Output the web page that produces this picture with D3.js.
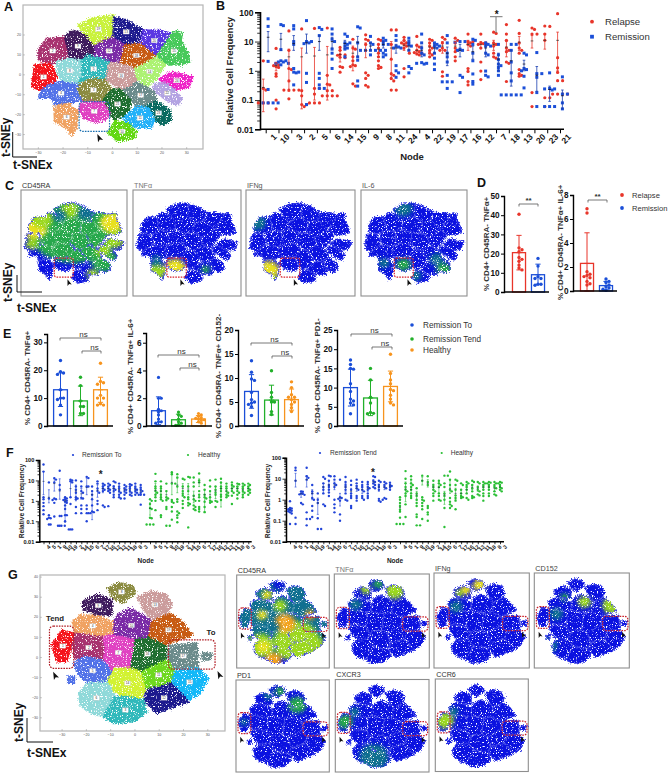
<!DOCTYPE html>
<html><head><meta charset="utf-8">
<script src="https://d3js.org/d3.v7.min.js"></script>
<style>html,body{margin:0;padding:0;background:#fff}svg{display:block}text{font-family:"Liberation Sans",Arial,sans-serif}</style>
</head><body><script>
// ---------- t-SNE node outlines (t-SNE units), panel A / C
const idsA=["19","13","20","15","12","9","2","1","8","5","16","18","14","24","22","17","3","4","21","7","6","23","11","10"];
const colorsA=["#c9f23c","#1c1a8e","#5a36e2","#47c95a","#7a2ba6","#3f1b5e","#a8336f","#f5141c","#8fd9d9","#30b9bb","#cb9c9c","#c75b14","#acf272","#ef22c8","#b3a3e2","#6b8b8b","#8b8b40","#5272e8","#1f6e30","#e042c2","#f0a262","#0a6a60","#22b1f8","#62d812"];
const outlinesA=[
[[-13.7,24.7],[-7,28.8],[0.7,29.7],[0.4,18.8],[-2.6,17.2],[-7.7,14.2],[-11,19.7]],
[[0.7,28.8],[5.8,27.2],[12.5,22.2],[10.5,15.8],[5.2,14.7],[0.4,18.5]],
[[12.5,22.2],[20.6,21.8],[24,20.5],[20.6,13.8],[17.9,8.8],[11.2,15.5]],
[[24,20.5],[26,21.8],[28.4,20.5],[28,17.2],[30.7,10.5],[31.4,6.3],[27.4,4.7],[21.7,4.7],[17.9,8.8],[20.6,13.8]],
[[-7.7,14.2],[-2.6,17.2],[0.4,18.5],[5.2,14.7],[3.8,8.8],[3.1,5.5],[-1.6,5.8],[-7.7,8.8]],
[[-19.8,18],[-16.4,22.2],[-13.7,21.3],[-11,19.7],[-7.7,14.2],[-7.7,8.8],[-12.4,7.2],[-17.8,8]],
[[-29.9,12.2],[-26.5,18],[-19.8,18.8],[-17.8,8],[-22.5,6.3],[-25.2,4.7],[-29.9,7.2]],
[[-31.3,4.7],[-25.2,5.5],[-22.2,-0.3],[-23.2,-4.5],[-27.9,-8.7],[-32.6,-6.2]],
[[-22.5,6.3],[-17.8,8],[-12.4,7.2],[-12,-0.3],[-13.7,-5.3],[-19.8,-3.7],[-22.2,-0.3]],
[[-12.4,7.2],[-9.7,9.7],[-1,6.3],[-2.3,-0.3],[-3,-2.8],[-8.4,-2],[-13.7,-5.3],[-12,-0.3]],
[[-1,5.8],[3.1,5.5],[7.8,4.7],[10.1,-2],[7.8,-6.2],[3.1,-7.5],[-2.3,-2.8],[-2.3,-0.3]],
[[5.2,14.7],[11.2,15.5],[17.9,8.8],[12.5,4.7],[9.2,3],[7.8,4.7],[3.4,5.8]],
[[12.5,4.7],[17.9,8.8],[21.7,4.7],[17.9,-2],[13.9,-6.5],[10.1,-2],[9.2,3]],
[[19.1,-2.5],[23.9,1.3],[30,-0.3],[32.8,-1.2],[30.7,-7],[26,-7.5],[21.3,-5.3]],
[[17.2,-4.5],[21.9,-4.5],[25.3,-7.8],[28.4,-12],[26.7,-15.3],[23.3,-14.5],[19.3,-10.3],[16.3,-8.7]],
[[7.8,-6.2],[10.1,-3.7],[13.9,-6.5],[17.2,-8.7],[17.9,-12.8],[14.6,-16.2],[9.8,-16.2],[4.4,-7.8]],
[[-13.7,-5.3],[-8.4,-2],[-3,-2.8],[0.1,-7.5],[-3.6,-12.8],[-8.4,-13.7],[-12.4,-12.8],[-14.7,-7.8]],
[[-22.2,-3.7],[-19.8,-3.7],[-13.7,-5.3],[-14.7,-7.8],[-12.4,-12.8],[-16.4,-14.8],[-23.2,-15.3],[-24.5,-12],[-29.9,-12],[-28.5,-7.8],[-25.2,-5.3]],
[[0.1,-7.5],[3.1,-7.5],[7.8,-13.7],[6.5,-20.3],[1.1,-22.8],[-0.9,-20.3],[-3.6,-12.8]],
[[-12.4,-13.7],[-3.6,-13.7],[-0.9,-20.3],[-2.3,-22.8],[-6.3,-24.2],[-11.7,-22],[-13.3,-17.8]],
[[-23.5,-16.2],[-17.8,-14.5],[-13.7,-18.7],[-14.4,-27],[-16.4,-31.2],[-18.5,-27],[-23.2,-23.7]],
[[13.2,-16.2],[17.9,-13.7],[23.3,-17.8],[24,-22.8],[20.6,-25.3],[15.2,-22]],
[[4.4,-22],[9.8,-16.2],[14.6,-16.5],[17.2,-22.8],[15.9,-27],[11.2,-27],[6.5,-25.3]],
[[1.1,-23.2],[6.5,-24.5],[9.8,-28.7],[9.2,-32],[2.4,-33.7],[-1.6,-29.5]]];
// ---------- t-SNE node outlines, panel G
const idsG=["8","13","9","10","19","4","1","2","7","16","17","","5","","14","11","15","12","6","3"];
const colorsG=["#8b8b40","#cb9c9c","#3f1b5e","#7a2ba6","#c75b14","#f0a262","#f5141c","#a8336f","#e042c2","#1f6e30","#6b8b8b","#6b8b8b","#5272e8","#5272e8","#d2f232","#6ed81e","#12b8f8","#1c1a8e","#8fd9d9","#30b9bb"];
const outlinesG=[
[[-11.4,34],[-6.6,37],[-0.4,35.3],[0.3,31.5],[-5.2,26.7],[-9.3,30]],
[[1,30],[7.1,32.8],[13.3,30.8],[15.4,25.9],[13.3,20.9],[7.1,17.9],[3.7,23.4]],
[[-21.7,27.5],[-15.5,31.2],[-9.3,28.4],[-9.3,20.9],[-15.5,20.9],[-21,23.4]],
[[-8.7,17.6],[-6.6,21.7],[-1.8,24.2],[3.7,20.9],[7.1,17.6],[5.8,10.1],[0.3,8.5],[-9.3,10.9]],
[[7.1,17.6],[14.7,21.7],[19.5,17.6],[24,10.9],[14.7,6.8],[13.3,6],[5.8,10.1]],
[[-25.8,17.6],[-22.4,20.9],[-15.5,20.6],[-8.9,17.6],[-9.3,10.9],[-12.8,10.1],[-24.5,11.8]],
[[-34.1,6],[-30,13.4],[-25.1,11.8],[-25.8,6],[-27.9,-2.3],[-32,-2.3]],
[[-24.5,11.8],[-12.8,10.1],[-12.1,4.3],[-12.8,-2.3],[-24.5,-0.7],[-25.8,6]],
[[-12.8,10.1],[-9.3,10.9],[0.3,8.5],[-1.5,-5.6],[-8,-5.6],[-11.4,-7.3],[-12.8,-2.3],[-12.1,4.3]],
[[0.3,8.5],[5.8,9.6],[13.3,5.1],[12.6,-1.5],[3,-7],[-1.5,-5.6]],
[[14.7,6],[25.7,6.8],[26.4,-5],[16.1,-5.6],[13.3,-1.5]],
[[27.5,2],[31.9,2],[31.2,-1.5],[27.5,-1.5]],
[[-25.1,-3.2],[-21,0.2],[-13.5,-1.5],[-9.3,-7.3],[-12.8,-13.1],[-16.9,-14.8],[-23.1,-8.9]],
[[-27.5,-10],[-24.7,-9.3],[-24.7,-13],[-27.5,-13]],
[[-11.4,-12.3],[-8,-5.6],[-1.5,-5.6],[2.3,-7.3],[5.1,-16.4],[2.3,-20.6],[-3.2,-20.6],[-9.3,-16.4]],
[[3,-7.3],[13.3,-1.5],[16.8,-7.3],[15.4,-12.3],[5.1,-15.9]],
[[16.8,-6.5],[26.4,-5.6],[30.5,-10.6],[27.1,-18.1],[22.3,-21.4],[16.1,-13.9],[15.4,-12.3]],
[[5.1,-16.4],[15.4,-13.1],[22.3,-22.2],[16.1,-24.7],[9.2,-28],[3.7,-21.4]],
[[-23.1,-18.1],[-19.6,-13.1],[-11.4,-12.3],[-9.3,-16.4],[-8,-19.7],[-12.8,-29.7],[-18.3,-28],[-22.4,-23.9]],
[[-8,-19.7],[-3.2,-19.7],[3.7,-21.4],[5.1,-27.2],[-0.4,-32.2],[-8.7,-33],[-12.8,-29.7]]];
// ---------- marker expression hot spots: [tsneX, tsneY, radius, level]
const levelColors=["#0b12e0","#0f6f90","#27a84c","#9bd81e","#e8e020","#f2a31e"];
const hotCD45RAc=[[0,15,33,2],[-26,9,8,4],[-21,17,7,3],[25,14,8,4],[-3,24,6,3],[-10,20,5,1],[8,22,6,1],[27,0,6,3],[20,-16,9,2],[12,-27,4,3],[19,-8,5,3],[-28,-3,4,3]];
const hotTNFc=[[-8,-21.5,7,4],[-20,-25,6,3],[-20,-16,4,1],[12,-23,3,2]];
const hotIFNc=[[-20.5,-23,7,4],[-17,-31,3,3],[-28,14,6,1]];
const hotIL6c=[[-7,-19,5,2],[-20,-18,4,1],[19.6,-23,5,2],[1,-28,4,1],[-7,25,6,1],[15,-15,5,1]];
const hotCD45RAg=[[0,8,36,1],[9,-14.5,17,3],[-18,-18,10,3],[0,1,8,5],[-8.5,-30,6,5],[-16,-19,5,4],[19,8,4,5],[-17,8,4,4],[-3.5,16,5,3],[21.5,-17,8,3],[-13.5,25,4,4],[-4,34,5,0],[-11,-3,7,1]];
const hotTNFg=[[8.2,28,7,3],[-4,33.5,4,2],[-13,29,4,3],[-20.5,16.5,5,1]];
const hotIFNg=[[-2.7,32,5,4],[-12.7,28,4,4],[-18,25,3,3],[-20,14,5,1]];
const hotCD152g=[[0.7,18,5,3],[20.7,15,7,3],[-14,22,3,2],[-20,8,5,1],[-25,-18,6,1]];
const hotPD1g=[[-3,32,4,2],[9.5,20.5,7,2],[-12,29,4,1],[-30,6,3,1]];
const hotCXCR3g=[[-29,6,6,2],[-7.5,-24,11,1],[-22,14,4,1]];
const hotCCR6g=[[-29,6.7,7,3],[-22.5,14,4,1]];
// ---------- panel B
const nodesB=["1","10","3","2","5","6","14","15","9","8","11","24","4","22","19","17","16","12","7","18","13","20","23","21"];
const relapseB=[[2.2,0.25,0.22,0.08,0.08,0.08],[5.8,1.8,1.6,1.5,1.4,1.3,0.8,0.65,0.1,0.05],[23,5,1.2,1.1,0.45,0.22,0.22,0.22,0.22,0.11],[27,0.21,0.14,0.07,0.06,0.07],[28,0.25,0.25,0.16,0.08,0.08,0.08],[29,0.7,0.35,0.33,0.21,0.21,0.14,0.14,0.14,0.14],[6.3,5,3.6,3.5,3.4,2.9,2.8,1.4,1.3,0.9],[12,6,5.5,3,2.2,1.6,1.5,1.4,0.36,0.3],[17,12,11,8,5,0.85,0.7,0.55,0.32,0.28],[12,11,8,6,4,3,2.2,1.5,1.3,1.2],[25,25,8,2.5,0.8,0.7,0.55,0.45,0.22,0.22],[14,11,9,9,8,7,6,1.2,0.62],[15,7.5,6.5,5,4.5,4.2,4,4,3.8,3.5],[12,11,9,7,6,5,4,3.5,3],[14,12,9,6,5,5,0.92,0.65],[13,11,9,6,5,4.5,3,2.2],[18,10,10,9,8,7,1.2,0.95,0.43,0.33],[18,9,9,8.5,8,6,2,0.98,0.5],[21,19,9,8,7,4,3,2.7],[38,18,11,6,5,4.5,2,1.8,0.43],[53,19,9,6,5,4,1.1,0.8,0.7,0.65],[29,26,18,18,0.18,0.06],[34,33,18,11,0.12,0.12,0.06],[90,2.8,1.25,0.88,0.46,0.46,0.16,0.16,0.16,0.16]];
const remissionB=[[60,33,2.1,0.23,0.08,0.08,0.08,0.08],[38,35,5.3,2.2,2.2,2,2,1.8,1.8,1.6],[35,27,10,8,1.2,0.9,0.9,0.85,0.33],[52,10,10,9,8.5,0.82,0.4,0.07],[30,26,16,0.82,0.55,0.33,0.25,0.25],[27,18,12,10,5.5,4,2.5,1.2],[18,15,9,9,8,7,6,5.5,3],[32,29,9,3,2.3,0.45,0.3],[15,9,8,5,5,5,5,5,5,3.5],[13,11,10,8,8,4,3.5,3],[16,11,7,6.5,6,6,1.5,1,0.85,0.6],[13,10,8,7,5,1.4,1.2,0.85],[18,9,6,4,3.5,1.9,1.8,1.8,1.7],[9,8,7,7,6,4,2.7,1.7,1.1],[16,9,4,3,2,0.7,0.42,0.42,0.42,0.25],[10,10,9.5,5.5,5,5,0.7,0.6,0.18],[12,11,8,4,2.2,0.78,0.43,0.35],[9,8,7,7,4,3.5,0.98,0.7,0.62],[8,3.5,2.4,1.7,1.5,1.3,1,0.7],[8,8,5,2,0.85,0.45,0.15,0.15,0.15,0.15,0.15],[4,3.5,1.2,1.1,1,0.65,0.26],[4.2,0.8,0.8,0.6,0.18,0.06],[0.85,0.25,0.24,0.24,0.22,0.06,0.06,0.06],[0.62,0.16,0.16,0.08,0.05]];
const relapseMeanB=[0.27,1.5,3,3,3.2,3.5,3.6,4,5,5.5,6,7.5,5,6.5,7,7,8,8,8,6.5,9.5,10.5,11,11];
const relapseLowB=[0.04,1,0.2,0.05,0.1,0.1,2,1,2.8,3,0.5,5,3.5,4.5,4,4.5,5,6,5,3,5,6,5.5,1];
const relapseHighB=[0.52,1.9,5.5,6,6.3,6.8,5,7,9,8,10,10,7,9,10,10,11,10,11,10,15,16,18,21];
const remissionMeanB=[14,12,8.5,9,10,10,8.5,9.5,7,8,6,7,5,6,4,5,4.5,6,2.5,2.2,1.7,0.7,0.23,0.14];
const remissionLowB=[4.5,5,5,4,5,6,6,3,5,6,4,5,3,4,1.5,3,2.5,3,1,0.3,1,0.2,0.09,0.05];
const remissionHighB=[22,19,16,18,16,14,11,15,9,10,8,9,7,8,6.5,8,7,8,4,5,2.3,1.4,0.3,0.22];
// ---------- panel D
const dRelapse1=[40.5,23,22,21,18,17,16,14,12.5,11.5], dRemission1=[17.5,13.5,8,7,7,4,4,3.5];
const dRelapse2=[6.85,6.5,1.6,1.4,1.3,1.2,1.1,0.8,0.6,0.5], dRemission2=[1,0.8,0.7,0.5,0.35,0.25,0.15,0.05];
const dStats1=[[20.5,11.5,29.5],[9,4,14.5]], dStats2=[[2.3,0,4.85],[0.45,0.1,0.8]];
// ---------- panel E
const groupsE=["Remission To","Remission Tend","Healthy"];
const e1To=[23.5,19.5,19,18.5,13,10,10,9.5,7.5,4], e1Tend=[17.5,14.5,9,7,7,4.5,4.5], e1Healthy=[22.5,16,15.5,15,11,10,10,8,7.5,7.5];
const e2To=[3.5,2,2,1.2,1.1,1,0.8,0.5,0.3,0.3,0.2], e2Tend=[1,0.8,0.7,0.5,0.3,0.2,0.1,0.05], e2Healthy=[0.9,0.8,0.7,0.6,0.55,0.5,0.45,0.4,0.3,0.2];
const e3To=[13.6,11.2,9.8,9.5,7,5.5,5,4.8,4.5,4,2.2], e3Tend=[11.5,7,6,5,5,3,2.4], e3Healthy=[9.2,8,6.5,6,6,5.5,5,4.5,3.8,3];
const e4To=[17.2,16,15,14.8,11,9,7,6.5,6,5.5,3.2], e4Tend=[15,12,7.5,6,3.5,3.3,3.2], e4Healthy=[18.7,13.7,12,11,9.5,9.2,8,7,6,5.5];
const eStats1=[[13,7,19],[9,3.7,14.3],[13,8.5,17.5]], eStats2=[[1.1,0.1,2.1],[0.45,0.05,0.85],[0.5,0.25,0.75]], eStats3=[[7.2,3.7,10.7],[5.4,2.3,8.5],[5.5,3.3,7.7]], eStats4=[[10,5.2,14.8],[7.3,2.7,11.9],[10.3,6.3,14.3]];
// ---------- panel F
const nodesF=["4","5","1","9","10","19","2","14","15","6","7","17","16","12","13","11","18","8","3"];
const toF=[[60,27,1.5,1.2,0.8,0.55,0.35,0.22],[8,1.3,0.2,0.15,0.14,0.13,0.07,0.07],[13,11,8,1.3,1.2,1.1,0.8,0.17],[30,6,3.5,0.18,0.18,0.06,0.06,0.06,0.06],[1.5,1.3,1.2,1.1,1,0.9,0.8,0.6,0.4,0.2,0.2,0.1],[11,10,9,8,1.5,0.7,0.04,0.04,0.04],[10,5,3.5,2.5,1.5,1.3,1.2,0.5,0.25],[9,5,3,2.5,1.4,1.3,0.6,0.4,0.25],[15,13,5,5,0.6,0.4,0.25,0.25,0.1],[5,3,2,1.2,0.6,0.3,0.28,0.25],[9,7,4,3,2.5,1,0.7,0.35],[7,6,5,4,3.5,3,0.6,0.5],[7,6,5,4,3.5,3,2.5,0.55],[9,8,5,4,3.5,3,2,1.5],[7,5,4,3,2.5,2,1.5,1.3],[6,5,4,3.5,3,2.5,2,1.3],[6.5,6,5,4,3,2.5,2,1.8],[7,5,4,3.5,3,2.5,2,2],[6,4.5,3.5,3,2.5,2,2,0.65]];
const toMeanF=[9,1.5,7,3,1,4,3,2.2,4.5,2,3.3,4,4,4,3.5,3.5,3.5,3.5,3];
const toLowF=[2,0.8,3,1.2,0.09,1.5,1,1.2,2,0.12,1.5,2.5,3,2.5,2.5,2.5,2.5,2.5,2];
const toHighF=[27,3.5,12,12,1.5,10,6,4,13,3,6,6,5,5.5,4.5,4.5,4.5,4.5,4];
const healthyLF=[[1.2,1,0.7,0.45,0.4,0.15,0.14,0.07,0.07,0.07],[21,9,5,4,3,2.5,2,1.5,1,0.35],[9,5,4,3,2,1.5,1.2,1,0.2,0.16],[7,3,1.5,1.3,1.1,0.5,0.4,0.06,0.06],[25,20,7,7,1.1,0.9,0.8,0.5,0.3,0.12],[20,14,5,1.2,0.9,0.3,0.25,0.2,0.15,0.09],[12,11,5,3,2.2,1.8,1.5,1,0.7,0.45],[15,14,5,3,1.5,1.2,0.8,0.7,0.6,0.05],[14,8,5,1.8,1.2,1,0.6,0.5,0.4,0.35],[22,10,8,3,2,1.5,1,0.5,0.4,0.3],[6,3.5,2,1.5,1.3,0.9,0.5,0.28],[10,5,3,1.5,1,0.9,0.8],[11,5,3.5,2.5,2,1,0.9,0.5],[12,8,5,4,3,2,1.6,1.1],[7,5,4,3,2.5,2,1.8,1.5],[8,6,5,4,3,2.5,1.8,0.7],[7,6.5,5,4,3,2.5,2,1.3],[7,6,5,4,3,2.5,2,1.5],[7,6,5,4,3.5,3,2.5,2]];
const healthyLMeanF=[0.42,3.2,3,2,8,6,4,3.8,1.7,8,2,2,3,4,3,4,4,3.5,4];
const healthyLLowF=[0.2,2,1.5,1,2,2.5,2.5,2,0.8,5,0.3,1.2,1.3,0.5,2,3,3,2.5,3];
const healthyLHighF=[0.8,7,5,3,22,13,7,7,3,12,3.5,3,5,7,4,5,5,4.5,5];
const tendF=[[0.85,0.4,0.38,0.35,0.33,0.3,0.28,0.25,0.22,0.07],[33,25,8,0.14,0.07],[2.5,2.4,2,1.9,1.8,1.7,0.7,0.6],[33,13,11,9,0.25,0.12,0.12,0.06],[5,2.5,2,1.2,1,0.5,0.3,0.15],[2,1,0.7,0.13,0.04,0.04],[12,10,6,4,3,2,0.5,0.6],[14,13,8,5,4,3,2.2,1.5],[13,9,6,5,4,1,0.6,0.4,0.25],[9,1.3,1.2,1.1,0.9,0.2,0.1],[12,7,5,4,3,2,1,0.9],[8,5,3,2,1.5,1.2,0.5,0.4],[9,6,4.5,3.5,3,1.5,1.2,0.9],[7,5,4,3,2.5,1.5,1.2,1],[7,5.5,4,3.5,3,2,1.5,1.2],[13,12,8,7,6,5,4,3.5],[8,7,5,4,3,1.1,0.9,0.8],[7,6,5,4,3.5,1.2,1.1,1],[6.5,5,4.5,4,3]];
const tendMeanF=[0.33,8,1.9,9,2,0.7,4,5,5,1.2,4,2.5,3.5,3,3.5,7,4,4,4.5];
const tendLowF=[0.25,4,1.3,4,1,0.2,2,3,3,0.5,2.5,1.5,2.5,2,2.5,5.5,2.5,3,3.5];
const tendHighF=[0.42,18,2.5,14,3,1.2,6,8,7,2,6,3.5,4.5,4,4.5,9,5.5,5,5.5];
const healthyRF=[[1.3,1,0.7,0.5,0.33,0.27,0.14,0.07,0.07,0.07],[23,10,6,4,3,2.5,2,1.5,0.6,0.15],[13,9,6,5,4,3,2,1.5,1.2],[3.5,2,1.5,1,0.7,0.5,0.2,0.15,0.06,0.06],[14,8,1.3,1,0.9,0.7,0.5,0.35,0.12],[13,7,5,0.5,0.4,0.25,0.2,0.1],[8,5,4,3,2.5,2,1.5,0.9],[8,6,5,4,2,1.5,1,0.9],[14,14,6,4,2,1.5,1,0.4,0.05],[22,9,5,3,2.5,1.2,0.8,0.6,0.5,0.4],[9,8,5,3,1.6,1.2,0.9,0.35],[6,5,3,2,1.5,1.3,1.2],[7,6,5,4,3,2,1.2,1],[8,7,5,3.5,2.5,1.5,1.3,1.2],[7,6,4,3,2.5,1.8,1.6],[7,6,5,4,3,2,1.5,0.9],[7,6.5,6,5,4,3,2,1.5],[7,6,5,4,3.5,2.5,1.8,1.6],[7,6.5,6,5,4,3.5,3,2.5]];
const healthyRMeanF=[0.42,3.2,3,1.7,8,6,4,3.8,1.7,3.5,2,2,3,4,3.5,4,4,3.5,4];
const healthyRLowF=[0.3,0.8,2,0.9,5,4,3,2,0.6,2,1,1.5,2,3,2.5,3,3,2.5,3];
const healthyRHighF=[0.55,7,7,2.5,12,9,5.5,7,2.5,8,3.5,3,4,5,4.5,5,5,4.5,5];
// ---------- shared text
const fontSans='"Liberation Sans",Arial,sans-serif', fontSerif='"Liberation Serif","Times New Roman",serif';
const RED="#e8352a",BLUE="#1b4fd8",GREEN="#22b02a",ORANGE="#f7941e";

const svg=d3.select("body").append("svg").attr("width",669).attr("height",773);
const defs=svg.append("defs");
function speckle(id,scale,freq,seed,k,t){
  const f=defs.append("filter").attr("id",id).attr("x","-8%").attr("y","-8%").attr("width","116%").attr("height","116%").attr("color-interpolation-filters","sRGB");
  f.append("feTurbulence").attr("type","fractalNoise").attr("baseFrequency",freq).attr("numOctaves",2).attr("seed",seed).attr("result","n");
  f.append("feDisplacementMap").attr("in","SourceGraphic").attr("in2","n").attr("scale",scale).attr("xChannelSelector","R").attr("yChannelSelector","G").attr("result","d");
  f.append("feColorMatrix").attr("in","n").attr("type","matrix").attr("values",`0 0 0 0 0 0 0 0 0 0 0 0 0 0 0 ${-k} 0 0 0 ${t}`).attr("result","m");
  f.append("feComposite").attr("in","d").attr("in2","m").attr("operator","in").attr("result","c");
  f.append("feGaussianBlur").attr("in","c").attr("stdDeviation",0.3);
}
speckle("spkA",6,0.8,4,9,6.4);
speckle("spkM",6,0.8,7,9,6.5);
defs.append("filter").attr("id","blurHot").attr("x","-30%").attr("y","-30%").attr("width","160%").attr("height","160%").attr("color-interpolation-filters","sRGB").append("feGaussianBlur").attr("stdDeviation",2.2);

const text=(x,y,s,o={})=>{const t=svg.append("text").attr("x",x).attr("y",y).text(s).attr("font-size",o.size||8).attr("fill",o.fill||"#222").attr("font-weight",o.bold?"bold":"normal").attr("text-anchor",o.anchor||"start").attr("font-family",o.family||fontSans);if(o.rot)t.attr("transform",`rotate(${o.rot} ${x} ${y})`);return t;};
[["A",4,11],["B",216,10],["C",5,190],["D",477,187],["E",3,338],["F",6,457],["G",8,579]].forEach(d=>text(d[1],d[2],d[0],{size:12.5,bold:true,fill:"#111"}));

const polyPath=(sx,sy)=>d3.line().x(d=>sx(d[0])).y(d=>sy(d[1])).curve(d3.curveLinearClosed);
function scatterBox(x0,y0,x1,y1,xd,yd,xt,yt){
  const sx=d3.scaleLinear().domain(xd).range([x0,x1]),sy=d3.scaleLinear().domain(yd).range([y0,y1]);
  const g=svg.append("g");
  g.append("rect").attr("x",x0).attr("y",y0).attr("width",x1-x0).attr("height",y1-y0).attr("fill","none").attr("stroke","#b5b5b5").attr("stroke-width",1.2);
  const ax=g.append("g").attr("transform",`translate(0,${y1})`).call(d3.axisBottom(sx).tickValues(xt).tickSize(-2).tickPadding(2));
  const ay=g.append("g").attr("transform",`translate(${x0},0)`).call(d3.axisLeft(sy).tickValues(yt).tickSize(-2).tickPadding(2));
  [ax,ay].forEach(a=>{a.select(".domain").remove();a.selectAll("line").attr("stroke","#999").attr("stroke-width",.5);a.selectAll("text").attr("font-size",3.6).attr("fill","#555");});
  return {sx,sy};
}
function colourMap(outlines,colors,ids,sx,sy,labelSize){
  const p=polyPath(sx,sy);
  svg.append("g").attr("filter","url(#spkA)").selectAll("path").data(outlines).join("path").attr("d",d=>p(d)).attr("fill",(d,i)=>colors[i]).attr("stroke",(d,i)=>colors[i]).attr("stroke-width",1.6).attr("stroke-linejoin","round");
  const lab=svg.append("g");
  outlines.forEach((o,i)=>{ if(!ids[i])return; const c=d3.polygonCentroid(o.map(q=>[sx(q[0]),sy(q[1])]));
    lab.append("rect").attr("x",c[0]-3).attr("y",c[1]-2.2).attr("width",6).attr("height",4.4).attr("fill","#fff").attr("stroke","#bbb").attr("stroke-width",.3);
    lab.append("text").attr("x",c[0]).attr("y",c[1]+1.2).attr("text-anchor","middle").attr("font-size",labelSize).attr("fill","#333").text(ids[i]);});
}
let clipN=0;
function markerMap(x0,y0,x1,y1,label,lblColor,outlines,xd,yd,hot){
  const sx=d3.scaleLinear().domain(xd).range([x0,x1]),sy=d3.scaleLinear().domain(yd).range([y0,y1]);
  svg.append("rect").attr("x",x0).attr("y",y0).attr("width",x1-x0).attr("height",y1-y0).attr("fill","#fff").attr("stroke","#8e8e8e").attr("stroke-width",1.1);
  const p=polyPath(sx,sy),id="clip"+(clipN++);
  defs.append("clipPath").attr("id",id).selectAll("path").data(outlines).join("path").attr("d",d=>p(d));
  const g=svg.append("g").attr("filter","url(#spkM)");
  g.selectAll("path.b").data(outlines).join("path").attr("class","b").attr("d",d=>p(d)).attr("fill",levelColors[0]).attr("stroke",levelColors[0]).attr("stroke-width",1.4).attr("stroke-linejoin","round");
  const h=g.append("g").attr("clip-path",`url(#${id})`).append("g").attr("filter","url(#blurHot)");
  h.selectAll("ellipse").data(hot).join("ellipse").attr("cx",d=>sx(d[0])).attr("cy",d=>sy(d[1])).attr("rx",d=>Math.abs(sx(d[2])-sx(0))).attr("ry",d=>Math.abs(sy(d[2])-sy(0))).attr("fill",d=>levelColors[d[3]]);
  g.append("g").selectAll("path").data(outlines).join("path").attr("d",d=>p(d)).attr("fill","none").attr("stroke","#fff").attr("stroke-width",.3).attr("stroke-opacity",.6);
  text(x0+1,y0-2.5,label,{family:fontSerif,size:7.2,fill:lblColor});
  return {sx,sy};
}
function dottedBox(sx,sy,a,b,c,d,color,r){
  svg.append("rect").attr("x",sx(a)).attr("y",sy(b)).attr("width",sx(c)-sx(a)).attr("height",sy(d)-sy(b)).attr("rx",r).attr("fill","none").attr("stroke",color).attr("stroke-width",1.2).attr("stroke-dasharray","1.6 1.1");
}
function arrowHead(x,y,rot,size){
  svg.append("path").attr("d",d3.line()([[0,-size],[size*.62,size*.75],[0,size*.35],[-size*.62,size*.75]])+"Z").attr("transform",`translate(${x},${y}) rotate(${rot})`).attr("fill","#111");
}
function lAxis(x,yTop,yBot,xEnd){svg.append("path").attr("d",`M${x},${yTop}V${yBot}H${xEnd}`).attr("fill","none").attr("stroke","#111").attr("stroke-width",1);}

// ---------- A
{
  const {sx,sy}=scatterBox(23,5,203,149,[-36,36.8],[34.8,-37.5],[-30,-20,-10,0,10,20,30],[20,10,0,-10,-20,-30]);
  colourMap(outlinesA,colorsA,idsA,sx,sy,3.2);
  dottedBox(sx,sy,-13.3,-13.7,-1,-28.7,"#1a6fb0",4);
  arrowHead(sx(-5.2),sy(-32),-25,4.5);
  lAxis(12.7,132,157,37);
  text(10,157,"t-SNEy",{size:12,bold:true,rot:-90,fill:"#111"});
  text(13,169,"t-SNEx",{size:12,bold:true,fill:"#111"});
}
// ---------- log panels helpers
function logAxis(x,yTop,yBot,xEnd,size,major,minor,lw){
  const sy=d3.scaleLog().domain([0.01,100]).range([yBot,yTop]);
  const g=svg.append("g").attr("transform",`translate(${x},0)`);
  const allT=[];[0.01,0.1,1,10].forEach(b=>[2,3,4,5,6,7,8,9].forEach(m=>allT.push(b*m)));
  g.append("g").call(d3.axisLeft(sy).tickValues(allT).tickSize(minor).tickFormat("")).call(a=>a.select(".domain").remove());
  g.append("g").call(d3.axisLeft(sy).tickValues([0.01,0.1,1,10,100]).tickSize(major).tickPadding(1.5).tickFormat(d=>String(d)));
  g.selectAll("line").attr("stroke","#000").attr("stroke-width",.8);
  g.select("g:last-child .domain").attr("stroke","#000").attr("stroke-width",lw);
  g.selectAll("text").attr("font-size",size).attr("font-weight","bold").attr("fill","#111");
  svg.append("line").attr("x1",x).attr("x2",xEnd).attr("y1",yBot).attr("y2",yBot).attr("stroke","#000").attr("stroke-width",lw);
  return sy;
}
function dodge(vals,sy,cx,step,minD){
  const placed=[];
  [...vals].sort((a,b)=>b-a).forEach(v=>{
    const y=sy(v);let k=0,x=cx;
    for(;;){
      const off=k===0?0:(k%2?1:-1)*Math.ceil(k/2)*step; x=cx+off;
      if(!placed.some(p=>Math.hypot(p.x-x,p.y-y)<minD))break; k++; if(k>12)break;
    }
    placed.push({x,y,v});
  });
  return placed;
}
function marks(pts,shape,color,r){
  const g=svg.append("g").attr("fill",color);
  if(shape==="circle")g.selectAll("circle").data(pts).join("circle").attr("cx",d=>d.x).attr("cy",d=>d.y).attr("r",r);
  else g.selectAll("rect").data(pts).join("rect").attr("x",d=>d.x-r).attr("y",d=>d.y-r).attr("width",2*r).attr("height",2*r);
}
function errBar(cx,sy,m,lo,hi,color,meanColor,cap,lw){
  const g=svg.append("g").attr("stroke",color).attr("stroke-width",lw).attr("fill","none");
  g.append("line").attr("x1",cx).attr("x2",cx).attr("y1",sy(lo)).attr("y2",sy(hi));
  [lo,hi].forEach(v=>g.append("line").attr("x1",cx-cap).attr("x2",cx+cap).attr("y1",sy(v)).attr("y2",sy(v)));
  g.append("line").attr("x1",cx-cap).attr("x2",cx+cap).attr("y1",sy(m)).attr("y2",sy(m)).attr("stroke",meanColor);
}
// ---------- B
{
  const sy=logAxis(260,12.3,129.3,564,8.5,5,2.8,1.6);
  const sx=d3.scalePoint().domain(nodesB).range([265.7,560]);
  const ax=svg.append("g").attr("transform","translate(0,129.3)").call(d3.axisBottom(sx).tickSize(4).tickPadding(3));
  ax.select(".domain").remove();ax.selectAll("line").attr("stroke","#000").attr("stroke-width",1);
  ax.selectAll("text").attr("font-size",8.5).attr("font-weight","bold").attr("fill","#111").attr("text-anchor","end").attr("transform","translate(2,-1) rotate(-45)");
  nodesB.forEach((n,i)=>{
    const cx=sx(n);
    marks(dodge(relapseB[i],sy,cx-2.4,2.5,2.6),"circle",RED,1.6);
    marks(dodge(remissionB[i],sy,cx+2.4,2.5,2.6),"rect",BLUE,1.5);
    errBar(cx-2.4,sy,relapseMeanB[i],relapseLowB[i],relapseHighB[i],RED,"#333",1.3,.8);
    errBar(cx+2.4,sy,remissionMeanB[i],remissionLowB[i],remissionHighB[i],"#1c3fb0","#112",1.3,.8);
  });
  text(233,71,"Relative Cell Frequency",{size:9.6,bold:true,anchor:"middle",rot:-90,fill:"#222"});
  text(412,160,"Node",{size:9.5,bold:true,anchor:"middle"});
  const c7=sx("7");
  svg.append("path").attr("d",`M${c7-6},16.7H${c7+6.5}M${c7},16.7V33`).attr("stroke","#777").attr("stroke-width",1).attr("fill","none");
  text(c7+.7,18,"*",{size:10,bold:true,anchor:"middle",fill:"#111"});
  marks([{x:592,y:21.7}],"circle",RED,1.9);
  marks([{x:592,y:36.7}],"rect",BLUE,1.9);
  text(605,25,"Relapse",{size:9.6,fill:"#333"});text(605,40,"Remission",{size:9.6,fill:"#333"});
}
// ---------- C
{
  const xd=[-35,35],yd=[40,-44];
  [[21,190,127,296,"CD45RA",hotCD45RAc,"#333"],[133,190,241,296,"TNFα",hotTNFc,"#777"],[246,190,355,296,"IFNg",hotIFNc,"#555"],[361,190,467,296,"IL-6",hotIL6c,"#555"]].forEach(p=>{
    const {sx,sy}=markerMap(p[0],p[1],p[2],p[3],p[4],p[6],outlinesA,xd,yd,p[5]);
    dottedBox(sx,sy,-13,-14,-0.5,-29,"#d8202a",2);
    arrowHead(sx(-3.5),sy(-33.5),-20,3.6);
  });
  lAxis(17,275,292,42);
  text(12,302,"t-SNEy",{size:12,bold:true,rot:-90,fill:"#111"});
  text(17,312,"t-SNEx",{size:12,bold:true,fill:"#111"});
}
// ---------- bars
function barPanel(o){
  const sy=d3.scaleLinear().domain(o.domain).range([o.y0,o.yTop]);
  const sx=d3.scaleBand().domain(o.groups).range(o.band).paddingInner(.25).paddingOuter(.125);
  o.groups.forEach((g,i)=>{
    const x=sx(g),w=sx.bandwidth(),s=o.stats[i],c=o.colors[i],cx=x+w/2;
    svg.append("rect").attr("x",x+.6).attr("y",sy(s[0])).attr("width",w-1.2).attr("height",sy(0)-sy(s[0])).attr("fill","#fff").attr("stroke",c).attr("stroke-width",1.3);
    errBar(cx,sy,s[0],s[1],s[2],c,c,2.6,1);
    marks(dodge(o.values[i],sy,cx,o.dodgeStep||3,o.dodgeDist||2.8),"circle",c,o.r||1.7);
  });
  const ax=svg.append("g").attr("transform",`translate(${o.axisX},0)`).call(d3.axisLeft(sy).tickValues(o.ticks).tickSize(3).tickPadding(1.5).tickFormat(d3.format("d")));
  ax.select(".domain").attr("stroke","#000").attr("stroke-width",1.4);ax.selectAll("line").attr("stroke","#000").attr("stroke-width",1);
  ax.selectAll("text").attr("font-size",o.tickSize||8.2).attr("font-weight","bold").attr("fill","#111");
  svg.append("line").attr("x1",o.axisX).attr("x2",o.axisEnd).attr("y1",o.y0).attr("y2",o.y0).attr("stroke","#000").attr("stroke-width",1.4);
  text(o.labelX,o.labelY,o.label,{size:o.labelSize||8,bold:true,rot:-90,fill:"#333"});
}
function bracket(x0,x1,y,s,size,dy){
  svg.append("path").attr("d",`M${x0},${y+2.5}V${y}H${x1}V${y+2.5}`).attr("fill","none").attr("stroke","#555").attr("stroke-width",.8);
  text((x0+x1)/2+(s==="ns"?3:0),y+dy,s,{size,anchor:"middle",fill:"#333",bold:s!=="ns"});
}
// ---------- D
barPanel({domain:[0,50],y0:292,yTop:196,groups:["Relapse","Remission"],band:[509.5,547.5],stats:dStats1,values:[dRelapse1,dRemission1],colors:[RED,BLUE],ticks:[0,10,20,30,40,50],axisX:504,axisEnd:549,label:"% CD4+ CD45RA- TNFα+",labelX:489,labelY:291});
barPanel({domain:[0,8],y0:291,yTop:195,groups:["Relapse","Remission"],band:[577.5,615.5],stats:dStats2,values:[dRelapse2,dRemission2],colors:[RED,BLUE],ticks:[0,2,4,6,8],axisX:573,axisEnd:617,label:"% CD4+ CD45RA- TNFα+ IL-6+",labelX:563,labelY:300});
bracket(519,538,204,"**",8,-1);bracket(588,607,200,"**",8,-1);
marks([{x:622,y:195}],"circle",RED,1.9);marks([{x:622,y:208}],"circle",BLUE,1.9);
text(632,198,"Relapse",{size:7.6,fill:"#333"});text(632,211,"Remission",{size:7.6,fill:"#333"});
// ---------- E
const eColors=[BLUE,GREEN,ORANGE];
barPanel({domain:[0,33],y0:426,yTop:334,groups:groupsE,band:[50.5,110.5],stats:eStats1,values:[e1To,e1Tend,e1Healthy],colors:eColors,ticks:[0,10,20,30],axisX:47,axisEnd:113,label:"% CD4+ CD45RA- TNFα+",labelX:30,labelY:425});
barPanel({domain:[0,6.7],y0:426,yTop:333,groups:groupsE,band:[148.5,208.5],stats:eStats2,values:[e2To,e2Tend,e2Healthy],colors:eColors,ticks:[0,2,4,6],axisX:146,axisEnd:212,label:"% CD4+ CD45RA- TNFα+ IL-6+",labelX:133,labelY:434,r:1.6,dodgeStep:2.8,dodgeDist:2.2});
barPanel({domain:[0,20],y0:426,yTop:330,groups:groupsE,band:[241.5,301.5],stats:eStats3,values:[e3To,e3Tend,e3Healthy],colors:eColors,ticks:[0,5,10,15,20],axisX:238,axisEnd:304,label:"% CD4+ CD45RA- TNFα+ CD152-",labelX:221,labelY:438});
barPanel({domain:[0,25],y0:426,yTop:330,groups:groupsE,band:[340.5,400.5],stats:eStats4,values:[e4To,e4Tend,e4Healthy],colors:eColors,ticks:[0,5,10,15,20,25],axisX:337,axisEnd:403,label:"% CD4+ CD45RA- TNFα+ PD1-",labelX:320,labelY:433});
[[60,101,338,82,351],[158,199,355,180,368],[251,292,343,272,356],[351,392,334,372,347]].forEach(b=>{bracket(b[0],b[1],b[2],"ns",8,-1.5);bracket(b[3],b[1],b[4],"ns",8,-1.5);});
groupsE.forEach((g,i)=>{const y=[325,339,350][i];marks([{x:412,y}],"circle",eColors[i],1.8);text(423,y+3,g,{size:8.2,fill:"#333"});});
// ---------- F
function fPanel(axisX,yTop,xEnd,b0,b1,g0,g1,setA,mA,lA,hA,setB,mB,lB,hB,colA,colB){
  const sy=logAxis(axisX,yTop,541.7,xEnd,5.6,3.5,1.8,1.5);
  const sA=d3.scalePoint().domain(nodesF).range([b0,b1]),sB=d3.scalePoint().domain(nodesF).range([g0,g1]);
  [[sA,setA,mA,lA,hA,colA],[sB,setB,mB,lB,hB,colB]].forEach(([sc,vals,m,lo,hi,col])=>{
    const ax=svg.append("g").attr("transform","translate(0,541.7)").call(d3.axisBottom(sc).tickSize(2.5).tickPadding(2));
    ax.select(".domain").remove();ax.selectAll("line").attr("stroke","#000").attr("stroke-width",.8);
    ax.selectAll("text").attr("font-size",5.6).attr("font-weight","bold").attr("fill","#222").attr("text-anchor","end").attr("transform","translate(1,-.5) rotate(-45)");
    nodesF.forEach((n,i)=>{
      const cx=sc(n);
      marks(dodge(vals[i],sy,cx,1.7,1.7),"circle",col,1.2);
      errBar(cx,sy,m[i],lo[i],hi[i],col,"#234",1,.6);
    });
  });
}
fPanel(39.3,460,251.7,43.5,140.7,150,248.3,toF,toMeanF,toLowF,toHighF,healthyLF,healthyLMeanF,healthyLLowF,healthyLHighF,"#2244d8","#2abf35");
fPanel(286,457.7,504,290,390,400,500,tendF,tendMeanF,tendLowF,tendHighF,healthyRF,healthyRMeanF,healthyRLowF,healthyRHighF,"#2244d8","#2abf35");
text(24,501,"Relative Cell Frequency",{size:6.6,bold:true,anchor:"middle",rot:-90});
text(270,501,"Relative Cell Frequency",{size:6.6,bold:true,anchor:"middle",rot:-90});
text(145.7,563,"Node",{size:6.5,bold:true,anchor:"middle"});text(395,563,"Node",{size:6.5,bold:true,anchor:"middle"});
text(100.7,478,"*",{size:10,bold:true,anchor:"middle",fill:"#222"});text(373,476,"*",{size:10,bold:true,anchor:"middle",fill:"#222"});
[[73,455,"Remission To","#2244d8",82],[188,455,"Healthy","#2abf35",198],[320,453,"Remission Tend","#2244d8",330],[441.7,453,"Healthy","#2abf35",450.7]].forEach(d=>{
  marks([{x:d[0],y:d[1]}],"circle",d[3],1.1);text(d[4],d[1]+2.4,d[2],{size:6.6,fill:"#333"});
});
// ---------- G
{
  const {sx,sy}=scatterBox(40,575,225,731,[-38.9,37.3],[40.8,-36.8],[-30,-20,-10,0,10,20,30],[40,30,20,10,0,-10,-20,-30]);
  colourMap(outlinesG,colorsG,idsG,sx,sy,3.2);
  dottedBox(sx,sy,-35,15.4,-25,-5.6,"#b01c24",4);
  dottedBox(sx,sy,14,8.5,33.2,-6,"#b01c24",4);
  arrowHead(sx(-32.7),sy(-9.3),-25,4.5);arrowHead(sx(35),sy(-9),-25,4.5);
  text(55,621,"Tend",{size:7.8,bold:true,anchor:"middle",fill:"#222"});
  text(211,634.5,"To",{size:7.8,bold:true,anchor:"middle",fill:"#222"});
  lAxis(27,718,742,53);
  text(23,742,"t-SNEy",{size:12,bold:true,rot:-90,fill:"#111"});
  text(27,757,"t-SNEx",{size:12,bold:true,fill:"#111"});
  const xd=[-36,33.5],yd=[42,-37];
  [[236.7,575,329.3,668,"CD45RA",hotCD45RAg,"#333"],[334.3,574,429.3,668,"TNFα",hotTNFg,"#777"],[434,573,529.3,668,"IFNg",hotIFNg,"#444"],[534.3,573,629.3,668,"CD152",hotCD152g,"#444"],[236,680,329.3,772,"PD1",hotPD1g,"#333"],[335.3,679.5,429,772,"CXCR3",hotCXCR3g,"#333"],[435.3,679,528.3,771.5,"CCR6",hotCCR6g,"#333"]].forEach(p=>{
    const m=markerMap(p[0],p[1],p[2],p[3],p[4],p[6],outlinesG,xd,yd,p[5]);
    dottedBox(m.sx,m.sy,-34.5,14,-25,-4,"#c8202a",3.5);
    dottedBox(m.sx,m.sy,14,6,32.5,-6,"#c8202a",3.5);
    arrowHead(m.sx(-32),m.sy(-9.5),-20,3.3);arrowHead(m.sx(29),m.sy(-9.5),-20,3.3);
  });
}
</script></body></html>
